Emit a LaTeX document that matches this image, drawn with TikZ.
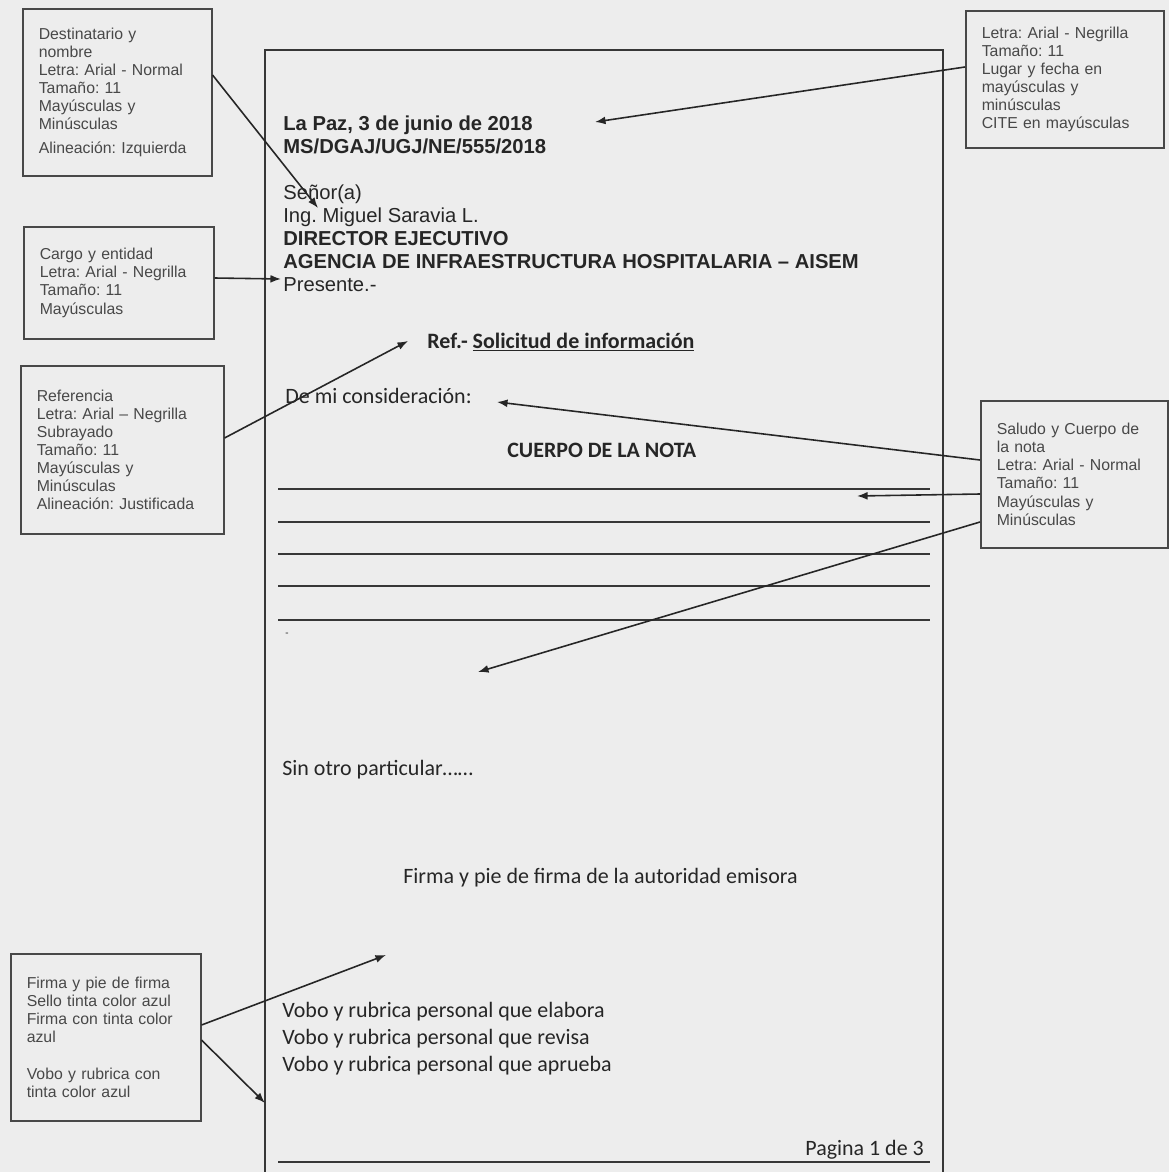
\documentclass[tikz,border=0pt]{standalone}
\usepackage{fontspec}
\setmainfont{Liberation Sans}
\newfontfamily\calibrifam{Carlito}
\usepackage{xcolor}
\usetikzlibrary{arrows.meta}
\definecolor{notapaper}{RGB}{237, 237, 237}
\definecolor{notaink}{RGB}{38, 38, 38}
\definecolor{notagray}{RGB}{72, 72, 72}
\definecolor{notaline}{RGB}{55, 55, 55}
\newcommand{\boxtext}{\fontsize{9}{10.3}\selectfont}
\newcommand{\arialtext}{\fontsize{11.5}{13}\selectfont}
\newcommand{\calibritext}{\calibrifam\fontsize{12.5}{15}\selectfont}
\frenchspacing

\begin{document}
\begin{tikzpicture}[x=0.02cm, y=-0.02cm, >={Latex[length=6pt,width=4.5pt]},
    notebox/.style={draw=notagray, line width=0.9pt, fill=notapaper, anchor=north west,
        align=left, inner xsep=0.32cm, font=\boxtext, text=notagray},
    arialline/.style={anchor=base west, inner sep=0pt, font=\arialtext, text=notaink},
    calibriline/.style={anchor=base west, inner sep=0pt, font=\calibritext, text=notaink},
    pointer/.style={->, line width=0.9pt, draw=notaink},
    ruleline/.style={line width=1.1pt, draw=notaline}]
    % Scanned sheet
    \fill[notapaper] (0,0) rectangle (1169,1172);
    \useasboundingbox (0,0) rectangle (1169,1172);

    % The letter page
    \draw[notaline, line width=1.1pt] (265,1172) -- (265,50) -- (943,50) -- (943,1172);

    % Header and addressee (Arial)
    \node[arialline, font=\arialtext\bfseries] (fecha) at (283,131) {La Paz, 3 de junio de 2018};
    \node[arialline, font=\arialtext\bfseries] (cite) at (283,154) {MS/DGAJ/UGJ/NE/555/2018};
    \node[arialline] (senor) at (283,200) {Señor(a)};
    \node[arialline] (nombre) at (283,223) {Ing. Miguel Saravia L.};
    \node[arialline, font=\arialtext\bfseries] (cargo) at (283,246) {DIRECTOR EJECUTIVO};
    \node[arialline, font=\arialtext\bfseries] (entidad) at (283,269) {AGENCIA DE INFRAESTRUCTURA HOSPITALARIA – AISEM};
    \node[arialline] (presente) at (283,292) {Presente.-};

    % Body of the letter (Calibri)
    \node[calibriline, font=\calibritext\bfseries] (referencia) at (427,348) {Ref.- \underline{Solicitud de información}};
    \node[calibriline] (saludo) at (285,403) {De mi consideración:};
    \node[calibriline, font=\calibritext\bfseries] (cuerpo) at (507,457) {CUERPO DE LA NOTA};
    \foreach \y in {489,522,554,586,620} {
        \draw[ruleline] (278,\y) -- (930,\y);
    }
    \node[calibriline, font=\calibrifam\fontsize{6}{7}\selectfont] (guion) at (285,636) {-};
    \node[calibriline] (cierre) at (282,775) {Sin otro particular\dots\dots};
    \node[calibriline] (firma) at (403,883) {Firma y pie de firma de la autoridad emisora};
    \node[calibriline] (vobo1) at (282,1017) {Vobo y rubrica personal que elabora};
    \node[calibriline] (vobo2) at (282,1044) {Vobo y rubrica personal que revisa};
    \node[calibriline] (vobo3) at (282,1071) {Vobo y rubrica personal que aprueba};
    \node[calibriline] (pagina) at (805,1155) {Pagina 1 de 3};
    \draw[ruleline] (278,1162) -- (930,1162);

    % Notes around the page
    \node[notebox, text width=3.14cm, minimum height=3.34cm] (destinatario) at (22,8)
        {Destinatario y\\ nombre\\ Letra: Arial - Normal\\ Tamaño: 11\\ Mayúsculas y\\ Minúsculas\\[3pt] Alineación: Izquierda};
    \node[notebox, text width=3.16cm, minimum height=2.24cm] (entidadnota) at (23,226)
        {Cargo y entidad\\ Letra: Arial - Negrilla\\ Tamaño: 11\\ Mayúsculas};
    \node[notebox, text width=3.42cm, minimum height=3.36cm] (refnota) at (20,365)
        {Referencia\\ Letra: Arial – Negrilla\\ Subrayado\\ Tamaño: 11\\ Mayúsculas y\\ Minúsculas\\ Alineación: Justificada};
    \node[notebox, text width=3.32cm, minimum height=2.74cm] (fechanota) at (965,10)
        {Letra: Arial - Negrilla\\ Tamaño: 11\\ Lugar y fecha en\\ mayúsculas y\\ minúsculas\\ CITE en mayúsculas};
    \node[notebox, text width=3.10cm, minimum height=2.94cm] (cuerponota) at (980,400)
        {Saludo y Cuerpo de\\ la nota\\ Letra: Arial - Normal\\ Tamaño: 11\\ Mayúsculas y\\ Minúsculas};
    \node[notebox, text width=3.16cm, minimum height=3.34cm] (firmanota) at (10,953)
        {Firma y pie de firma\\ Sello tinta color azul\\ Firma con tinta color\\ azul\\[11pt] Vobo y rubrica con\\ tinta color azul};

    % Where the arrows point
    \coordinate (tipFecha) at (595,122);
    \coordinate (tipSenor) at (318,208);
    \coordinate (tipCargo) at (281,279);
    \coordinate (tipRef) at (408,341);
    \coordinate (tipSaludo) at (497,402);
    \coordinate (tipCuerpo) at (857,496);
    \coordinate (tipLineas) at (478,672);
    \coordinate (tipFirma) at (386,955);
    \coordinate (tipVobo) at (265,1103);

    % Arrows
    \draw[pointer] (destinatario.east |- 0,75) -- (tipSenor);
    \draw[pointer] (entidadnota.east |- 0,278) -- (tipCargo);
    \draw[pointer] (refnota.east |- 0,438) -- (tipRef);
    \draw[pointer] (fechanota.west |- 0,67) -- (tipFecha);
    \draw[pointer] (cuerponota.west |- 0,460) -- (tipSaludo);
    \draw[pointer] (cuerponota.west |- 0,494) -- (tipCuerpo);
    \draw[pointer] (cuerponota.west |- 0,522) -- (tipLineas);
    \draw[pointer] (firmanota.east |- 0,1025) -- (tipFirma);
    \draw[pointer] (firmanota.east |- 0,1040) -- (tipVobo);
\end{tikzpicture}
\end{document}
